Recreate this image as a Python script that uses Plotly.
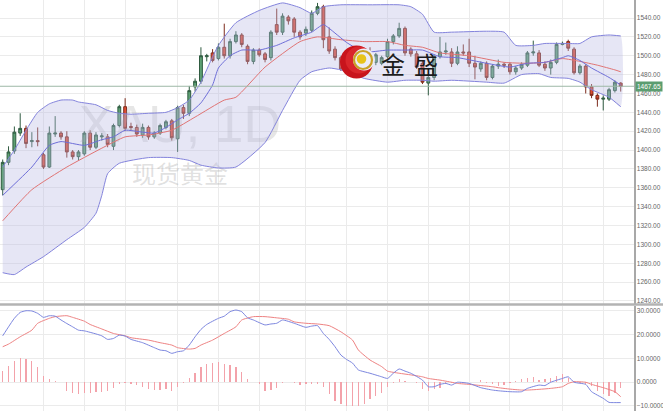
import plotly.graph_objects as go

# ---------------- data ----------------
idx = list(range(107))
open_ = [1358, 1387, 1399, 1418, 1423, 1409, 1410, 1395, 1382, 1417,
         1418, 1414, 1398, 1393, 1396, 1418, 1403, 1414, 1414, 1404,
         1426, 1446, 1425, 1424, 1416, 1424, 1414, 1418, 1424, 1431,
         1412, 1445, 1439, 1467, 1473, 1499, 1503, 1497, 1509, 1500,
         1515, 1522, 1510, 1494, 1506, 1502, 1498, 1533, 1525, 1541,
         1539, 1525, 1524, 1527, 1545, 1552, 1520, 1507, 1498, 1486,
         1492, 1485, 1487, 1500, 1493, 1492, 1499, 1515, 1521, 1529,
         1507, 1502, 1492, 1471, 1477, 1499, 1504, 1504, 1492, 1504,
         1504, 1492, 1486, 1492, 1477, 1489, 1491, 1491, 1483, 1487,
         1490, 1503, 1503, 1491, 1487, 1493, 1512, 1515, 1507, 1482,
         1489, 1467, 1458, 1454, 1454, 1463, 1471]
high = [1390, 1404, 1425, 1439, 1426, 1419, 1424, 1397, 1425, 1436,
        1420, 1420, 1400, 1400, 1420, 1421, 1419, 1418, 1417, 1428,
        1448, 1455, 1429, 1427, 1428, 1426, 1420, 1428, 1432, 1433,
        1447, 1448, 1468, 1476, 1509, 1502, 1507, 1513, 1534, 1518,
        1526, 1524, 1512, 1508, 1508, 1504, 1527, 1550, 1545, 1543,
        1541, 1527, 1531, 1548, 1556, 1554, 1530, 1510, 1500, 1496,
        1510, 1497, 1502, 1509, 1503, 1500, 1518, 1523, 1535, 1531,
        1509, 1505, 1495, 1479, 1501, 1520, 1514, 1508, 1510, 1512,
        1518, 1500, 1494, 1494, 1491, 1496, 1493, 1493, 1489, 1493,
        1505, 1516, 1506, 1494, 1496, 1514, 1515, 1517, 1509, 1491,
        1491, 1470, 1460, 1458, 1466, 1474, 1472]
low = [1352, 1384, 1396, 1415, 1402, 1403, 1404, 1380, 1381, 1414,
       1411, 1392, 1390, 1389, 1394, 1400, 1401, 1410, 1403, 1400,
       1424, 1420, 1421, 1414, 1413, 1411, 1412, 1416, 1422, 1410,
       1398, 1433, 1436, 1462, 1470, 1494, 1493, 1495, 1497, 1497,
       1513, 1509, 1491, 1491, 1499, 1493, 1495, 1522, 1522, 1533,
       1520, 1517, 1521, 1525, 1543, 1508, 1502, 1495, 1484, 1483,
       1482, 1481, 1484, 1492, 1490, 1490, 1497, 1512, 1519, 1500,
       1499, 1486, 1470, 1458, 1474, 1497, 1501, 1488, 1490, 1500,
       1488, 1475, 1483, 1474, 1475, 1486, 1487, 1480, 1480, 1485,
       1488, 1500, 1488, 1484, 1480, 1491, 1511, 1505, 1480, 1480,
       1460, 1455, 1446, 1442, 1452, 1461, 1462]
close = [1387, 1398, 1419, 1423, 1407, 1410, 1409, 1382, 1418, 1418,
         1414, 1398, 1393, 1398, 1418, 1403, 1416, 1415, 1406, 1426,
         1446, 1423, 1424, 1417, 1424, 1414, 1418, 1426, 1430, 1413,
         1445, 1439, 1463, 1473, 1500, 1500, 1495, 1509, 1500, 1515,
         1522, 1512, 1494, 1506, 1501, 1496, 1525, 1525, 1542, 1537,
         1525, 1520, 1528, 1545, 1552, 1517, 1505, 1498, 1486, 1492,
         1485, 1494, 1499, 1494, 1501, 1498, 1515, 1521, 1529, 1503,
         1502, 1488, 1472, 1477, 1499, 1504, 1505, 1492, 1504, 1503,
         1492, 1488, 1492, 1477, 1489, 1491, 1490, 1483, 1487, 1491,
         1503, 1504, 1490, 1487, 1493, 1512, 1513, 1508, 1482, 1489,
         1467, 1458, 1454, 1455, 1464, 1472, 1467.65]
last_price = 1467.65

# Bollinger upper / lower / middle and short MA
upper_x = [0, 2, 4, 6, 8, 10, 12, 13, 16, 18, 20, 22, 25, 28, 30, 32, 34, 36, 37, 40,
           44, 48, 51, 53, 55, 58, 63, 68, 70, 72, 74, 77, 83, 86, 88, 91, 93, 97, 99,
           101, 104, 106]
upper_y = [1382, 1400, 1421, 1440, 1449, 1453, 1453, 1451, 1448, 1442, 1439, 1438, 1439,
           1440, 1445, 1453, 1472, 1499, 1511, 1535, 1548, 1556, 1551, 1545, 1552, 1554,
           1554, 1554, 1552, 1544, 1525, 1525, 1526, 1525, 1511, 1511, 1513, 1513, 1513,
           1520, 1522, 1521]
lower_x = [0, 2, 4, 7, 11, 14, 16, 17, 18, 20, 25, 29, 32, 34, 37, 40, 45, 48, 51, 53,
           56, 58, 62, 66, 69, 72, 74, 77, 83, 86, 89, 92, 94, 97, 99, 101, 104, 106]
lower_y = [1270, 1268, 1276, 1287, 1305, 1318, 1333, 1352, 1375, 1386, 1392, 1392, 1389,
           1384, 1381, 1382, 1408, 1442, 1474, 1483, 1487, 1485, 1476, 1472, 1474, 1474,
           1473, 1474, 1472, 1471, 1480, 1481, 1477, 1476, 1472, 1464, 1456, 1446]
mid_x = [0, 5, 11, 17, 21, 25, 29, 33, 38, 40, 45, 51, 54, 58, 62, 66, 69, 72, 75, 80,
         86, 90, 93, 96, 99, 102, 105, 106]
mid_y = [1325, 1358, 1382, 1402, 1414, 1416, 1421, 1435, 1453, 1456, 1488, 1515, 1520,
         1517, 1515, 1515, 1511, 1509, 1503, 1500, 1493, 1492, 1493, 1497, 1494, 1490,
         1485, 1483]
ma_x = [0, 5, 8, 10, 14, 17, 19, 21, 24, 26, 28, 30, 32, 34, 36, 37, 39, 41, 44, 47,
        50, 53, 55, 57, 59, 62, 66, 69, 72, 75, 78, 83, 87, 90, 93, 96, 97, 99, 101,
        104, 106]
ma_y = [1352, 1382, 1405, 1409, 1405, 1411, 1414, 1421, 1419, 1418, 1424, 1432, 1439,
        1450, 1469, 1487, 1500, 1506, 1506, 1511, 1519, 1525, 1533, 1524, 1514, 1504,
        1506, 1506, 1506, 1499, 1498, 1492, 1488, 1492, 1493, 1498, 1500, 1495, 1487,
        1477, 1469]

# MACD pane
macd_x = [0, 1, 2, 3, 4, 5, 6, 7, 8, 9, 10, 11, 12, 13, 14, 16, 17, 18, 19, 20, 21, 22,
          24, 26, 27, 28, 29, 30, 31, 32, 33, 34, 35, 37, 38, 39, 40, 41, 42, 43, 45, 46,
          47, 48, 50, 52, 53, 54, 55, 56, 57, 58, 59, 60, 61, 63, 65, 66, 67, 68, 69, 70,
          72, 73, 74, 75, 76, 77, 78, 80, 82, 84, 85, 87, 89, 90, 92, 93, 94, 96, 97, 98,
          100, 101, 103, 104, 105, 106]
macd_y = [19.5, 23.3, 26.9, 29.4, 30.1, 30.0, 29.0, 27.3, 28.0, 27.8, 26.2, 24.7, 23.3,
          21.9, 21.6, 20.3, 19.5, 18.0, 18.4, 19.8, 19.4, 18.0, 16.6, 14.5, 13.5, 13.2,
          12.1, 12.8, 13.2, 15.6, 19.1, 22.2, 24.3, 26.9, 27.8, 29.7, 30.4, 29.7, 27.1,
          26.2, 24.1, 24.5, 24.8, 26.2, 24.8, 23.1, 23.6, 23.8, 20.5, 18.0, 14.9, 11.4,
          9.5, 8.0, 5.1, 3.7, 2.2, 1.5, 3.7, 5.5, 4.6, 3.7, 0.8, -2.0, -2.0, -1.0, -0.6,
          -1.3, -0.1, -0.6, -2.4, -3.4, -3.7, -4.1, -4.1, -2.7, -1.3, -1.5, -0.1, 1.5,
          2.2, -0.1, -1.0, -4.1, -6.9, -8.6, -8.7, -8.7]
signal_x = [0, 1, 3, 5, 6, 8, 9, 11, 12, 14, 15, 17, 19, 21, 22, 25, 27, 29, 30, 32, 33,
            34, 36, 38, 40, 41, 43, 45, 47, 49, 50, 52, 54, 56, 58, 60, 61, 63, 65, 66,
            68, 70, 72, 73, 75, 77, 78, 80, 82, 84, 85, 87, 89, 90, 92, 94, 96, 97, 98,
            100, 101, 103, 105, 106]
signal_y = [14.9, 16.0, 19.1, 21.9, 24.8, 26.9, 27.6, 28.0, 27.3, 25.7, 24.3, 22.4, 20.5,
            19.5, 18.7, 17.7, 16.6, 15.6, 14.5, 13.9, 14.2, 15.6, 17.7, 20.5, 23.3, 26.2,
            27.6, 27.6, 27.1, 26.5, 25.4, 24.8, 24.5, 23.8, 21.2, 17.7, 13.5, 9.3, 6.5,
            4.6, 3.7, 3.0, 2.2, 1.5, 0.8, -0.1, -0.6, -1.0, -1.5, -2.0, -2.4, -3.0, -3.4,
            -3.4, -3.1, -2.7, -2.0, -0.6, 0.1, -0.1, -1.0, -2.4, -4.1, -6.2]
hist = [4.6, 6.7, 8.9, 10.3, 9.8, 8.9, 6.3, 2.5, 1.1, 0.4,
        0.0, -3.8, -4.5, -5.2, -4.5, -4.8, -4.1, -4.2, -3.8, -2.4,
        -0.7, -0.3, -0.7, -1.3, -2.1, -2.8, -3.4, -3.4, -3.1, -3.8,
        -2.1, -0.3, 1.8, 3.9, 6.3, 7.7, 8.2, 8.4, 7.5, 7.0,
        6.3, 4.4, 1.1, 0.1, -1.0, -3.8, -3.5, -2.4, -0.3, 0.0,
        -0.3, -1.3, -1.0, -0.7, -0.7, -2.1, -5.2,
        -8.0, -9.4, -10.1, -10.1, -10.1, -9.4, -7.3, -5.9, -4.5, -2.1,
        -0.3, 1.1, 0.4, 0.0, -0.3, -3.1, -3.8, -3.1, -2.4, -1.0,
        -0.3, 0.1, -0.3, 0.0, 0.1, 0.7, -0.3, -1.0, -1.7, -1.3,
        -0.3, 0.4, 1.1, 1.5, 2.1, 0.7, 1.1, 1.8, 2.5, 3.2,
        1.8, 0.4, -0.3, -1.0, -1.7, -3.8, -5.2, -5.9, -4.5, -2.5]

price_ticks = [1240, 1260, 1280, 1300, 1320, 1340, 1360, 1380, 1400, 1420, 1440,
               1460, 1480, 1500, 1520, 1540]
macd_ticks = [-10, 0, 10, 20, 30]
grid_idx = [7, 14, 21, 30, 37, 44, 52, 59, 66, 73, 80, 87, 96, 103]

watermark_1 = "XAU, 1D"
watermark_2 = "现货黄金"
brand = ["金", "盛"]

# ---------------- figure ----------------
W, H = 663, 411
PLOT_W = 634

def px(x):
    return x / PLOT_W

def py(y):
    return 1 - y / H

fig = go.Figure()

# watermarks (drawn first, behind everything)
fig.add_trace(go.Scatter(x=[30.4], y=[1422], mode="text", text=[watermark_1],
                         textfont=dict(size=52, color="rgba(160,160,160,0.26)",
                                       family="Liberation Sans, Arial"),
                         hoverinfo="skip", showlegend=False))
fig.add_trace(go.Scatter(x=[30.4], y=[1371], mode="text", text=[watermark_2],
                         textfont=dict(size=24, color="rgba(160,160,160,0.32)",
                                       family="Noto Sans CJK SC"),
                         hoverinfo="skip", showlegend=False))

# band fill
fig.add_trace(go.Scatter(x=upper_x + lower_x[::-1], y=upper_y + lower_y[::-1],
                         fill="toself", fillcolor="rgba(185,185,228,0.36)",
                         line=dict(width=0, shape="spline", smoothing=0.5),
                         mode="lines", hoverinfo="skip", showlegend=False))
band_line = dict(color="#8383dc", width=1, shape="spline", smoothing=0.5)
fig.add_trace(go.Scatter(x=upper_x, y=upper_y, mode="lines", line=band_line,
                         showlegend=False))
fig.add_trace(go.Scatter(x=lower_x, y=lower_y, mode="lines", line=band_line,
                         showlegend=False))
fig.add_trace(go.Scatter(x=mid_x, y=mid_y, mode="lines",
                         line=dict(color="#e07474", width=1, shape="spline", smoothing=0.5),
                         showlegend=False))
fig.add_trace(go.Scatter(x=ma_x, y=ma_y, mode="lines",
                         line=dict(color="#6e6ed8", width=1, shape="spline", smoothing=0.5),
                         showlegend=False))

fig.add_trace(go.Candlestick(
    x=idx, open=open_, high=high, low=low, close=close,
    increasing=dict(fillcolor="#5da073", line=dict(color="#2f5b40", width=1)),
    decreasing=dict(fillcolor="#e04b31", line=dict(color="#7d2b1c", width=1)),
    whiskerwidth=0, showlegend=False, hoverinfo="skip"))

# MACD pane
fig.add_trace(go.Bar(x=idx, y=hist, width=0.22, marker=dict(color="#f3a2aa", line=dict(width=0)),
                     xaxis="x2", yaxis="y2", showlegend=False))
fig.add_trace(go.Scatter(x=signal_x, y=signal_y, mode="lines", xaxis="x2", yaxis="y2",
                         line=dict(color="#ee8282", width=1, shape="spline", smoothing=0.5),
                         showlegend=False))
fig.add_trace(go.Scatter(x=macd_x, y=macd_y, mode="lines", xaxis="x2", yaxis="y2",
                         line=dict(color="#7c86df", width=1, shape="spline", smoothing=0.5),
                         showlegend=False))

x_rng = [-0.463, 108.28]
axis_font = dict(size=6.5, color="#666666", family="Liberation Sans, Arial")
common_x = dict(range=x_rng, showticklabels=False, tickmode="array", tickvals=grid_idx,
                showgrid=True, gridcolor="#ebebeb", gridwidth=1, zeroline=False,
                showline=False, ticks="", automargin=False)
common_y = dict(side="right", showgrid=True, gridcolor="#ebebeb", gridwidth=1,
                zeroline=False, showline=True, linecolor="#a8a8a8", linewidth=1.5,
                ticks="", tickfont=axis_font, automargin=False)

shapes = [
    # current price line
    dict(type="line", xref="paper", yref="y", x0=0, x1=1, y0=last_price, y1=last_price,
         line=dict(color="#9db8a6", width=1), layer="above"),
    # pane separator
    dict(type="line", xref="paper", yref="paper", x0=0, x1=W / PLOT_W,
         y0=py(304.6), y1=py(304.6), line=dict(color="#b3b3b3", width=2.5)),
]

# logo (red crescent, gold ring, yellow ball)
def circ(cx, cy, r, fill, line_color=None, lw=0):
    return dict(type="circle", xref="paper", yref="paper",
                x0=px(cx - r), x1=px(cx + r), y0=py(cy + r), y1=py(cy - r),
                fillcolor=fill, line=dict(color=line_color or fill, width=lw), layer="above")

shapes += [
    circ(356.5, 62, 16.5, "#c8141c"),
    circ(359, 60, 13.5, "#d9262b"),
    circ(364, 59.5, 11, "rgba(236,236,246,1)"),
    circ(363, 60, 9, "rgba(0,0,0,0)", "#c9a227", 2.2),
    circ(361.5, 59, 4.8, "#e7c31a"),
]

annotations = [
    dict(x=1.0, xref="paper", y=last_price, yref="y", text=f"{last_price:.2f}",
         showarrow=False, xanchor="left", yanchor="middle", xshift=1, bgcolor="#5b9d70",
         font=dict(size=6.5, color="white", family="Liberation Sans, Arial"), borderpad=1),
    dict(x=px(393), y=py(63), xref="paper", yref="paper", text=brand[0], showarrow=False,
         xanchor="center", yanchor="middle",
         font=dict(size=24, color="#1c1c1c", family="Noto Sans CJK SC")),
    dict(x=px(426), y=py(63), xref="paper", yref="paper", text=brand[1], showarrow=False,
         xanchor="center", yanchor="middle",
         font=dict(size=24, color="#1c1c1c", family="Noto Sans CJK SC")),
]

fig.update_layout(
    width=W, height=H,
    margin=dict(l=0, r=W - PLOT_W, t=0, b=0, autoexpand=False),
    paper_bgcolor="white", plot_bgcolor="white",
    showlegend=False, bargap=0,
    xaxis=dict(domain=[0, 1], anchor="y", rangeslider=dict(visible=False), **common_x),
    xaxis2=dict(domain=[0, 1], anchor="y2", matches="x", **common_x),
    yaxis=dict(domain=[1 - 304 / H, 1], range=[1236.8, 1559.1], tickvals=price_ticks,
               tickformat=".2f", **common_y),
    yaxis2=dict(domain=[0, 105 / H], range=[-12.25, 32.1], tickvals=macd_ticks,
                tickformat=".4f", **common_y),
    shapes=shapes, annotations=annotations,
)

fig.write_html("out.html", config={"displayModeBar": False, "staticPlot": True},
               post_script="document.body.style.margin='0';document.body.style.overflow='hidden';")
